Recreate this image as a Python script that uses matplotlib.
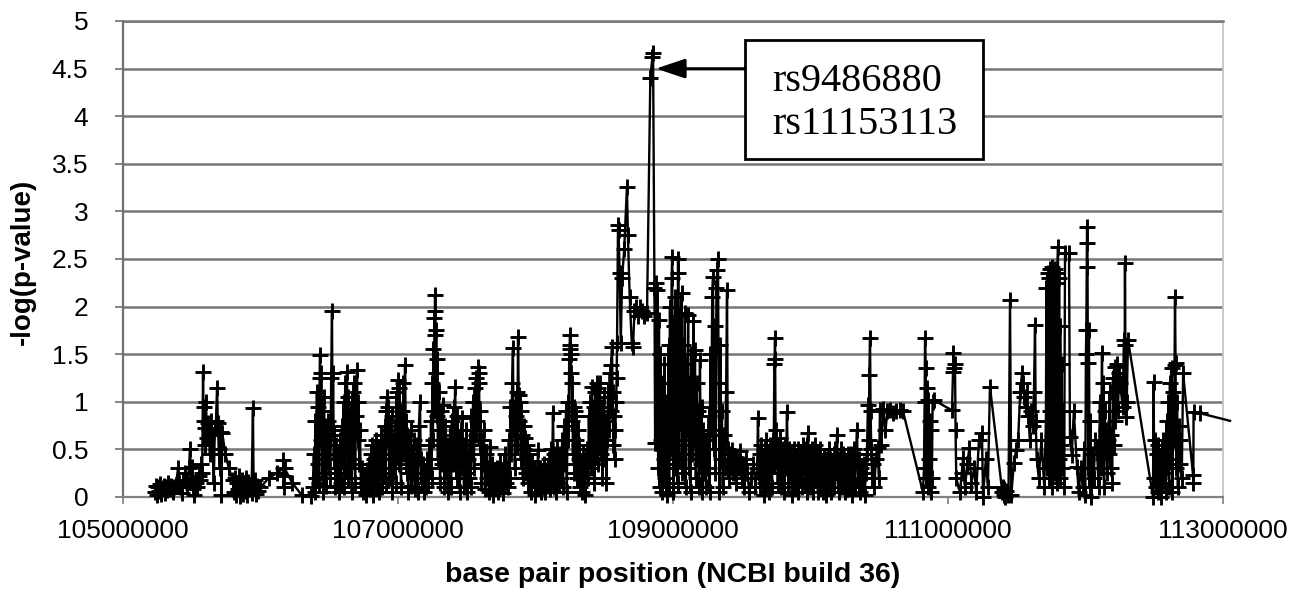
import numpy as np
import matplotlib
matplotlib.use("Agg")
import matplotlib.pyplot as plt
from matplotlib.patches import Rectangle

# SNP positions (Mb, NCBI build 36) and -log(p-value), left to right
pos_a = [105.230, 105.240, 105.250, 105.258, 105.265, 105.272, 105.280, 105.288, 105.296, 105.304,
         105.312, 105.320, 105.330, 105.340, 105.350, 105.362, 105.372, 105.385, 105.400, 105.405,
         105.418, 105.430, 105.440, 105.451, 105.465, 105.480, 105.487, 105.495, 105.505, 105.512,
         105.520, 105.530, 105.540, 105.552, 105.560, 105.570, 105.576, 105.582, 105.586, 105.590,
         105.594, 105.598, 105.604, 105.610, 105.618, 105.625, 105.632, 105.640, 105.650, 105.660,
         105.668, 105.676, 105.684, 105.690, 105.696, 105.704, 105.710, 105.716, 105.722, 105.745,
         105.770, 105.800, 105.810, 105.818, 105.825, 105.832, 105.840, 105.846, 105.852, 105.858,
         105.865, 105.872, 105.878, 105.885, 105.892, 105.898, 105.905, 105.912, 105.920, 105.928,
         105.935, 105.945, 105.950, 105.958, 105.965, 105.972, 105.980, 106.000, 106.060, 106.120,
         106.164, 106.166, 106.168, 106.172, 106.176, 106.230, 106.300, 106.370]
val_a = [0.05, 0.12, 0.02, 0.10, 0.06, 0.14, 0.03, 0.09, 0.12, 0.04,
         0.11, 0.07, 0.15, 0.08, 0.12, 0.05, 0.10, 0.13, 0.30, 0.15,
         0.10, 0.04, 0.18, 0.25, 0.12, 0.30, 0.50, 0.20, 0.32, 0.08,
         0.02, 0.15, 0.10, 0.22, 0.18, 0.35, 0.25, 1.31, 0.80, 0.95,
         0.55, 0.72, 1.00, 0.62, 0.78, 0.70, 0.45, 0.80, 0.65, 0.15,
         0.72, 0.80, 1.15, 0.78, 0.50, 0.30, 0.68, 0.02, 0.67, 0.45,
         0.30, 0.18, 0.05, 0.20, 0.02, 0.15, 0.08, 0.22, 0.01, 0.12,
         0.18, 0.03, 0.14, 0.06, 0.20, 0.10, 0.02, 0.16, 0.08, 0.13,
         0.04, 0.93, 0.10, 0.18, 0.03, 0.12, 0.06, 0.10, 0.20, 0.25,
         0.30, 0.39, 0.10, 0.22, 0.30, 0.15, 0.02, 0.01]

pos_b = [106.380, 106.388, 106.394, 106.400, 106.405, 106.410, 106.415, 106.420, 106.425, 106.430,
         106.433, 106.437, 106.442, 106.447, 106.452, 106.457, 106.462, 106.467, 106.472, 106.478,
         106.484, 106.490, 106.496, 106.502, 106.508, 106.514, 106.520, 106.524, 106.528, 106.533,
         106.538, 106.544, 106.550, 106.556, 106.562, 106.568, 106.574, 106.580, 106.586, 106.592,
         106.598, 106.604, 106.610, 106.616, 106.622, 106.629, 106.634, 106.640, 106.646, 106.652,
         106.658, 106.664, 106.670, 106.676, 106.682, 106.688, 106.694, 106.702, 106.707, 106.712,
         106.718, 106.724, 106.730, 106.738, 106.746, 106.755, 106.765, 106.775, 106.782]
val_b = [0.10, 0.45, 0.05, 0.80, 0.20, 1.10, 0.35, 0.95, 0.15, 1.25,
         1.49, 0.60, 1.30, 0.25, 0.90, 0.05, 1.05, 0.40, 0.75, 0.12,
         0.55, 0.80, 0.30, 0.60, 0.20, 1.25, 1.95, 0.70, 1.30, 0.40,
         0.65, 0.10, 0.55, 0.25, 0.45, 0.05, 0.30, 0.60, 0.15, 0.75,
         0.40, 1.00, 0.10, 1.20, 0.55, 1.31, 0.20, 1.05, 0.65, 0.30,
         0.90, 0.05, 1.10, 0.40, 1.20, 0.15, 0.85, 1.33, 0.60, 1.00,
         0.35, 0.70, 0.10, 0.30, 0.05, 0.20, 0.02, 0.28, 0.10]

pos_c = [106.790, 106.796, 106.802, 106.808, 106.814, 106.820, 106.826, 106.832, 106.838, 106.844,
         106.850, 106.856, 106.862, 106.868, 106.874, 106.880, 106.886, 106.892, 106.898, 106.904,
         106.910, 106.916, 106.920, 106.925, 106.930, 106.936, 106.942, 106.948, 106.954, 106.960,
         106.966, 106.972, 106.978, 106.984, 106.990, 106.996, 107.000, 107.005, 107.010, 107.016,
         107.022, 107.028, 107.034, 107.040, 107.046, 107.051, 107.056, 107.062, 107.068, 107.074,
         107.080, 107.086, 107.092, 107.098, 107.104, 107.110, 107.116, 107.122, 107.128, 107.134,
         107.140, 107.146, 107.152, 107.160, 107.165, 107.172, 107.180, 107.188, 107.196, 107.204,
         107.212, 107.220, 107.228]
val_c = [0.35, 0.08, 0.45, 0.15, 0.55, 0.02, 0.40, 0.20, 0.60, 0.10,
         0.35, 0.50, 0.05, 0.45, 0.25, 0.65, 0.10, 0.55, 0.30, 0.75,
         0.15, 0.90, 1.05, 0.60, 0.95, 0.20, 0.70, 0.40, 0.85, 0.05,
         0.60, 0.30, 0.75, 0.15, 1.10, 0.50, 1.23, 0.35, 1.15, 0.70,
         0.10, 0.90, 0.45, 1.20, 0.60, 1.39, 0.80, 0.25, 0.65, 0.05,
         0.50, 0.30, 0.70, 0.12, 0.45, 0.25, 0.60, 0.08, 0.40, 0.20,
         0.55, 0.05, 0.75, 1.00, 0.40, 0.15, 0.35, 0.05, 0.25, 0.10,
         0.40, 0.15, 0.55]

pos_d = [107.235, 107.240, 107.245, 107.250, 107.254, 107.258, 107.262, 107.265, 107.267, 107.269,
         107.272, 107.275, 107.278, 107.282, 107.286, 107.290, 107.295, 107.300, 107.306, 107.312,
         107.318, 107.327, 107.333, 107.338, 107.344, 107.350, 107.356, 107.362, 107.368, 107.374,
         107.380, 107.386, 107.392, 107.398, 107.404, 107.410, 107.415, 107.420, 107.426, 107.432,
         107.438, 107.444, 107.450, 107.456, 107.462, 107.467, 107.473, 107.480, 107.486, 107.492,
         107.498, 107.504, 107.510, 107.516, 107.522, 107.528, 107.534, 107.540, 107.546, 107.552,
         107.558, 107.564, 107.570, 107.576, 107.582, 107.586, 107.590, 107.594, 107.600, 107.606,
         107.612, 107.618, 107.625, 107.632, 107.640, 107.648, 107.656, 107.662, 107.669, 107.676,
         107.684, 107.692, 107.700, 107.710, 107.720, 107.730, 107.742, 107.750, 107.758, 107.766,
         107.775, 107.782, 107.790, 107.798]
val_d = [0.30, 0.80, 0.20, 1.20, 0.60, 1.55, 0.90, 1.88, 1.70, 2.12,
         1.95, 1.30, 1.75, 0.85, 1.45, 0.40, 1.10, 0.70, 0.15, 0.90,
         0.35, 0.97, 0.60, 0.10, 0.75, 0.30, 0.55, 0.05, 0.45, 0.20,
         0.65, 0.10, 0.80, 0.35, 0.95, 0.50, 1.16, 0.70, 0.20, 0.85,
         0.40, 0.60, 0.05, 0.70, 0.30, 0.83, 0.45, 0.10, 0.55, 0.25,
         0.70, 0.05, 0.40, 0.20, 0.60, 0.10, 0.85, 0.45, 1.00, 0.30,
         1.15, 0.65, 1.25, 0.80, 1.37, 1.30, 1.20, 0.55, 0.90, 0.15,
         0.60, 0.35, 0.70, 0.08, 0.45, 0.20, 0.30, 0.05, 0.53, 0.15,
         0.35, 0.02, 0.25, 0.10, 0.30, 0.05, 0.36, 0.12, 0.28, 0.04,
         0.45, 0.15, 0.30, 0.10]

pos_e = [107.806, 107.812, 107.818, 107.824, 107.830, 107.836, 107.840, 107.845, 107.850, 107.856,
         107.862, 107.868, 107.873, 107.878, 107.883, 107.888, 107.893, 107.898, 107.903, 107.908,
         107.913, 107.918, 107.924, 107.930, 107.936, 107.942, 107.948, 107.955, 107.962, 107.968,
         107.975, 107.982, 107.990, 107.998, 108.005, 108.012, 108.018, 108.024, 108.032, 108.040,
         108.048, 108.056, 108.064, 108.072, 108.080, 108.088, 108.096, 108.104, 108.112, 108.120,
         108.127, 108.132, 108.138, 108.145, 108.152, 108.160, 108.168, 108.178, 108.186, 108.194,
         108.200, 108.208, 108.216, 108.222, 108.228, 108.234, 108.240, 108.245, 108.248, 108.251,
         108.254, 108.257, 108.260, 108.264, 108.268, 108.272, 108.278, 108.283, 108.288, 108.293,
         108.298, 108.303, 108.308, 108.313, 108.318, 108.324, 108.330, 108.336, 108.343, 108.350,
         108.356, 108.362, 108.368, 108.375, 108.382, 108.388, 108.394, 108.400, 108.406, 108.411,
         108.416, 108.422, 108.428, 108.434, 108.440, 108.446, 108.452, 108.458, 108.464, 108.469,
         108.474, 108.480, 108.486, 108.492, 108.498, 108.504, 108.510, 108.516, 108.522, 108.528,
         108.534]
val_e = [0.60, 0.20, 0.95, 0.45, 1.20, 1.56, 0.70, 0.95, 0.30, 0.85,
         1.10, 0.55, 1.68, 1.07, 0.80, 1.00, 0.40, 0.90, 0.65, 0.20,
         0.75, 0.50, 0.62, 0.25, 0.55, 0.35, 0.15, 0.45, 0.30, 0.05,
         0.38, 0.20, 0.30, 0.02, 0.25, 0.10, 0.49, 0.15, 0.30, 0.05,
         0.25, 0.10, 0.35, 0.05, 0.28, 0.12, 0.40, 0.08, 0.50, 0.20,
         0.88, 0.45, 0.10, 0.35, 0.05, 0.50, 0.15, 0.45, 0.20, 0.60,
         0.10, 0.75, 0.35, 0.90, 0.05, 1.00, 0.60, 1.45, 1.60, 1.70,
         1.55, 1.50, 1.30, 0.80, 1.20, 0.45, 0.95, 0.25, 0.90, 0.60,
         0.85, 0.20, 0.70, 0.40, 0.55, 0.10, 0.35, 0.05, 0.45, 0.15,
         0.30, 0.02, 0.40, 0.50, 0.20, 0.85, 0.40, 1.00, 0.30, 1.16,
         0.55, 0.95, 0.15, 1.10, 0.60, 1.20, 0.35, 1.15, 0.80, 1.20,
         0.45, 0.95, 0.20, 0.70, 1.05, 0.40, 0.80, 0.15, 0.60, 1.10,
         0.70]

# the associated peak (rs9486880 / rs11153113)
pos_f = [108.540, 108.546, 108.552, 108.556, 108.561, 108.566, 108.571, 108.576, 108.581, 108.586,
         108.590, 108.593, 108.600, 108.604, 108.612, 108.620, 108.630, 108.645, 108.665, 108.672,
         108.685, 108.700, 108.709, 108.720, 108.730, 108.745, 108.760, 108.775, 108.790, 108.811,
         108.835, 108.850, 108.855, 108.865, 108.870]
val_f = [1.30, 0.90, 1.39, 1.58, 1.10, 0.55, 0.85, 0.40, 0.70, 1.00,
         1.25, 1.62, 2.86, 2.80, 2.35, 1.62, 2.30, 2.60, 3.26, 2.75,
         2.10, 1.62, 1.58, 1.95, 2.00, 1.90, 2.00, 1.95, 1.90, 1.93,
         4.40, 4.62, 4.66, 2.20, 0.57]

pos_g = [108.875, 108.880, 108.886, 108.892, 108.898, 108.903, 108.908, 108.913, 108.918, 108.923,
         108.928, 108.933, 108.938, 108.943, 108.948, 108.953, 108.958, 108.963, 108.968, 108.972,
         108.978, 108.984, 108.990, 108.994, 108.998, 109.003, 109.008, 109.013, 109.018, 109.023,
         109.028, 109.033, 109.036, 109.040, 109.045, 109.050, 109.056, 109.062, 109.068, 109.074,
         109.080, 109.086, 109.092, 109.098, 109.104, 109.110, 109.116, 109.122, 109.128, 109.134,
         109.140, 109.148, 109.154, 109.160, 109.166, 109.172, 109.178, 109.184, 109.190, 109.196,
         109.202, 109.208, 109.214, 109.220, 109.226, 109.234, 109.240, 109.247, 109.254, 109.260,
         109.266, 109.272, 109.278, 109.285, 109.291, 109.296, 109.302, 109.308, 109.316, 109.322,
         109.327, 109.332, 109.338, 109.344, 109.350, 109.356, 109.362, 109.370, 109.378, 109.386,
         109.393, 109.398, 109.404, 109.412, 109.420, 109.430, 109.440, 109.450, 109.460, 109.470,
         109.480, 109.490, 109.500, 109.510, 109.520, 109.530, 109.540, 109.555, 109.570, 109.585,
         109.600, 109.612, 109.618, 109.624]
val_g = [2.25, 0.57, 2.17, 0.30, 1.86, 0.10, 1.50, 0.60, 1.20, 0.05,
         0.90, 0.40, 1.40, 0.20, 0.70, 0.02, 1.00, 0.35, 1.60, 0.10,
         2.00, 0.50, 2.30, 2.52, 1.20, 0.05, 1.80, 0.30, 2.10, 0.60,
         1.50, 0.15, 2.50, 2.35, 0.40, 1.90, 0.80, 2.14, 0.25, 1.60,
         0.55, 1.93, 0.10, 1.40, 0.70, 1.91, 0.30, 1.20, 0.05, 1.50,
         0.45, 1.85, 0.60, 1.54, 0.20, 1.20, 0.40, 0.90, 0.10, 1.44,
         0.35, 0.95, 0.05, 0.70, 0.25, 0.60, 0.10, 0.60, 0.30, 0.85,
         0.05, 1.50, 0.70, 2.10, 2.31, 0.50, 1.80, 0.25, 2.20, 2.38,
         2.50, 1.20, 0.05, 1.60, 0.40, 0.90, 0.10, 0.65, 0.30, 1.10,
         2.17, 0.50, 0.20, 0.45, 0.30, 0.49, 0.25, 0.42, 0.15, 0.38,
         0.30, 0.48, 0.20, 0.35, 0.10, 0.40, 0.25, 0.05, 0.20, 0.35,
         0.10, 0.30, 0.83, 0.25]

pos_h = [109.630, 109.636, 109.642, 109.648, 109.654, 109.660, 109.666, 109.672, 109.678, 109.684,
         109.690, 109.696, 109.702, 109.708, 109.714, 109.720, 109.726, 109.732, 109.737, 109.740,
         109.742, 109.746, 109.750, 109.756, 109.762, 109.768, 109.774, 109.780, 109.786, 109.792,
         109.798, 109.804, 109.810, 109.816, 109.822, 109.829, 109.834, 109.840, 109.846, 109.852,
         109.858, 109.864, 109.870, 109.876, 109.882, 109.888, 109.894, 109.900, 109.906, 109.912,
         109.918, 109.924, 109.930, 109.936, 109.942, 109.948, 109.954, 109.960, 109.966, 109.972,
         109.978, 109.982, 109.988, 109.994, 110.000, 110.006, 110.012, 110.018, 110.024, 110.030,
         110.036, 110.042, 110.048, 110.054, 110.060, 110.066, 110.072, 110.078, 110.084, 110.090,
         110.096, 110.102, 110.108, 110.114, 110.120, 110.126, 110.132, 110.138, 110.144, 110.150,
         110.156, 110.162, 110.168, 110.174, 110.180, 110.186, 110.193, 110.198, 110.204, 110.210,
         110.216, 110.222, 110.228, 110.234, 110.240, 110.246, 110.252, 110.258, 110.264, 110.270,
         110.276, 110.282, 110.288, 110.294, 110.300, 110.306, 110.312, 110.318, 110.324, 110.330,
         110.338, 110.344, 110.350, 110.356, 110.362, 110.370, 110.378, 110.386, 110.394, 110.402,
         110.410, 110.418, 110.424, 110.428, 110.433, 110.437, 110.442, 110.448, 110.456, 110.465,
         110.475, 110.490, 110.498, 110.505, 110.515, 110.530, 110.545, 110.560, 110.578, 110.600,
         110.625, 110.651, 110.673]
val_h = [0.45, 0.10, 0.55, 0.20, 0.35, 0.02, 0.50, 0.15, 0.60, 0.30,
         0.45, 0.05, 0.55, 0.25, 0.40, 0.10, 0.60, 0.35, 1.40, 1.45,
         1.67, 0.70, 0.40, 0.55, 0.15, 0.45, 0.30, 0.62, 0.10, 0.50,
         0.25, 0.40, 0.05, 0.55, 0.30, 0.89, 0.40, 0.15, 0.50, 0.25,
         0.45, 0.02, 0.35, 0.15, 0.50, 0.10, 0.40, 0.25, 0.50, 0.05,
         0.35, 0.20, 0.45, 0.10, 0.55, 0.30, 0.50, 0.15, 0.40, 0.05,
         0.55, 0.67, 0.30, 0.10, 0.45, 0.25, 0.50, 0.05, 0.40, 0.20,
         0.55, 0.30, 0.45, 0.05, 0.35, 0.15, 0.50, 0.20, 0.35, 0.05,
         0.42, 0.18, 0.30, 0.02, 0.40, 0.15, 0.50, 0.25, 0.40, 0.05,
         0.35, 0.20, 0.45, 0.10, 0.50, 0.25, 0.65, 0.30, 0.05, 0.40,
         0.20, 0.50, 0.10, 0.45, 0.25, 0.40, 0.05, 0.35, 0.15, 0.45,
         0.08, 0.30, 0.20, 0.45, 0.02, 0.35, 0.15, 0.50, 0.10, 0.45,
         0.70, 0.30, 0.10, 0.40, 0.05, 0.30, 0.10, 0.35, 0.02, 0.25,
         0.45, 0.97, 0.60, 1.28, 1.67, 0.90, 0.50, 0.20, 0.35, 0.10,
         0.40, 0.51, 0.20, 0.91, 0.55, 0.92, 0.70, 0.90, 0.91, 0.88,
         0.90, 0.91, 0.90]

pos_i = [110.818, 110.825, 110.830, 110.833, 110.838, 110.843, 110.848, 110.853, 110.858, 110.863,
         110.868, 110.873, 110.878, 110.883, 110.888, 110.895, 111.029, 111.036, 111.040, 111.045,
         111.051, 111.055, 111.060, 111.087, 111.100, 111.110, 111.124, 111.140, 111.155, 111.170,
         111.190, 111.205, 111.225, 111.247, 111.255, 111.275, 111.290, 111.305, 111.395, 111.400,
         111.405, 111.410, 111.415, 111.425, 111.440, 111.451, 111.460, 111.480, 111.495, 111.510,
         111.525, 111.538, 111.545, 111.555, 111.565, 111.575, 111.585, 111.595, 111.605, 111.615,
         111.625, 111.633, 111.638, 111.645, 111.660, 111.680, 111.700]
val_i = [0.05, 0.30, 1.00, 1.67, 1.35, 0.20, 1.15, 0.10, 1.02, 0.40,
         0.80, 0.05, 0.70, 0.20, 1.00, 1.02, 0.91, 1.31, 1.51, 1.35,
         1.40, 0.70, 0.20, 0.05, 0.25, 0.41, 0.10, 0.35, 0.51, 0.15,
         0.30, 0.05, 0.60, 0.67, 0.00, 0.40, 0.10, 1.16, 0.05, 0.10,
         0.02, 0.08, 0.00, 0.06, 0.02, 2.07, 0.02, 0.36, 0.49, 0.60,
         1.10, 1.30, 1.20, 1.05, 0.95, 1.10, 0.85, 0.60, 0.90, 0.75,
         1.10, 1.81, 0.80, 0.40, 0.20, 0.60, 0.10]

pos_j = [111.712, 111.716, 111.720, 111.724, 111.728, 111.732, 111.736, 111.740, 111.744, 111.748,
         111.752, 111.756, 111.760, 111.764, 111.768, 111.772, 111.776, 111.780, 111.784, 111.788,
         111.792, 111.796, 111.800, 111.804, 111.808, 111.812, 111.816, 111.820, 111.826, 111.832,
         111.838, 111.845, 111.851, 111.880, 111.887, 111.900, 111.915, 111.938, 111.950, 111.965,
         111.980, 111.990, 111.998, 112.003, 112.006, 112.009, 112.011, 112.014, 112.017, 112.020,
         112.025, 112.030, 112.036, 112.042, 112.050, 112.060, 112.070, 112.084, 112.095, 112.105,
         112.112, 112.120, 112.125, 112.130, 112.135, 112.140, 112.146, 112.152, 112.158, 112.164,
         112.170, 112.176, 112.182, 112.188, 112.194, 112.200, 112.206, 112.212, 112.218, 112.224,
         112.229, 112.236, 112.244, 112.251]
val_j = [0.80, 2.20, 0.30, 2.35, 0.60, 2.30, 0.20, 2.40, 0.90, 2.20,
         0.40, 2.42, 0.10, 2.30, 0.70, 2.35, 0.25, 2.40, 0.50, 2.25,
         0.15, 2.35, 2.63, 0.40, 2.30, 0.20, 1.80, 0.55, 1.40, 0.30,
         0.90, 0.10, 2.56, 2.56, 0.63, 0.44, 0.90, 0.32, 0.05, 0.30,
         0.10, 0.50, 0.02, 1.50, 1.75, 2.42, 2.84, 2.67, 1.41, 0.30,
         1.75, 0.10, 0.80, 0.00, 0.45, 0.20, 0.60, 0.50, 0.10, 1.00,
         0.30, 1.51, 0.40, 1.20, 0.10, 0.90, 0.50, 0.70, 0.25, 0.60,
         0.45, 1.10, 0.30, 0.65, 0.15, 1.25, 0.55, 1.37, 0.80, 1.10,
         1.40, 0.90, 1.30, 1.20]

pos_k = [112.270, 112.280, 112.284, 112.287, 112.290, 112.294, 112.300, 112.309, 112.491, 112.495,
         112.500, 112.506, 112.512, 112.518, 112.524, 112.530, 112.536, 112.542, 112.548, 112.554,
         112.560, 112.566, 112.572, 112.578, 112.584, 112.590, 112.596, 112.602, 112.608, 112.614,
         112.620, 112.626, 112.632, 112.638, 112.644, 112.648, 112.651, 112.655, 112.660, 112.666,
         112.672, 112.678, 112.684, 112.690, 112.700, 112.710, 112.782, 112.784, 112.786, 112.833,
         113.051]
val_k = [0.95, 1.65, 1.00, 2.46, 1.60, 0.84, 1.00, 1.65, 0.00, 1.21,
         0.20, 0.60, 0.10, 0.45, 0.05, 0.55, 0.20, 0.40, 0.00, 0.50,
         0.15, 0.60, 0.25, 0.45, 0.05, 0.80, 0.30, 1.00, 0.10, 1.20,
         0.40, 1.35, 0.05, 1.10, 0.60, 1.39, 2.10, 1.41, 0.30, 1.00,
         0.10, 0.75, 0.35, 0.60, 0.20, 1.30, 0.23, 0.15, 0.89, 0.88,
         0.80]

x_ticks = [105000000, 107000000, 109000000, 111000000, 113000000]
y_ticks = [0, 0.5, 1, 1.5, 2, 2.5, 3, 3.5, 4, 4.5, 5]
y_tick_labels = ['0', '0.5', '1', '1.5', '2', '2.5', '3', '3.5', '4', '4.5', '5']
snp_labels = 'rs9486880\nrs11153113'

pos_mb = np.concatenate([pos_a, pos_b, pos_c, pos_d, pos_e, pos_f, pos_g, pos_h, pos_i, pos_j, pos_k])
logp = np.concatenate([val_a, val_b, val_c, val_d, val_e, val_f, val_g, val_h, val_i, val_j, val_k])
pos_bp = pos_mb * 1e6

plt.rcParams['font.family'] = ['Liberation Sans', 'DejaVu Sans']

fig = plt.figure(figsize=(13.13, 5.97), dpi=100)
ax = fig.add_axes([123 / 1313, 100 / 597, 1100 / 1313, 476 / 597])

ax.plot(pos_bp, logp, color='black', lw=1.7, marker='+', ms=11, mew=2.1,
        markevery=slice(0, len(logp) - 1), clip_on=False, zorder=3)

ax.set_xlim(105e6, 113e6)
ax.set_ylim(0, 5)
ax.set_xticks(x_ticks)
ax.set_xticklabels([str(t) for t in x_ticks])
ax.set_yticks(y_ticks)
ax.set_yticklabels(y_tick_labels)

ax.yaxis.grid(True, color='#777777', lw=1.8)
ax.set_axisbelow(True)
ax.spines['left'].set_color('#707070')
ax.spines['left'].set_linewidth(1.6)
ax.spines['bottom'].set_color('#808080')
ax.spines['bottom'].set_linewidth(1.6)
ax.spines['top'].set_color('#777777')
ax.spines['top'].set_linewidth(1.8)
ax.spines['right'].set_color('#c0c0c0')
ax.spines['right'].set_linewidth(1.2)

ax.tick_params(axis='y', direction='out', length=6, width=1.2, color='#707070', labelsize=19, pad=19)
ax.tick_params(axis='x', direction='out', length=5, width=1.2, color='#808080', labelsize=19, pad=11)

ax.set_ylabel('-log(p-value)', fontsize=20, fontweight='bold')
ax.yaxis.set_label_coords(-0.079, 0.494)
ax.set_xlabel('base pair position (NCBI build 36)', fontsize=20.5, fontweight='bold')
ax.xaxis.set_label_coords(0.5, -0.137)

# label box and arrow for the top SNPs
ax.add_patch(Rectangle((0.5655, 0.710), 0.2163, 0.250, transform=ax.transAxes,
                       facecolor='white', edgecolor='black', lw=2, zorder=4))
ax.text(0.590, 0.828, snp_labels, transform=ax.transAxes, family='Liberation Serif',
        fontsize=29, ha='left', va='center', linespacing=1.22, zorder=5)
peak = np.argmax(logp)
ax.annotate('', xy=(pos_bp[peak], 4.5), xycoords='data',
            xytext=(0.5655, 0.9), textcoords='axes fraction',
            arrowprops=dict(arrowstyle='-|>,head_length=0.9,head_width=0.3', color='black',
                            lw=2, mutation_scale=20, shrinkA=0, shrinkB=2),
            zorder=5)

fig.savefig('out.png', dpi=100, facecolor='white')
